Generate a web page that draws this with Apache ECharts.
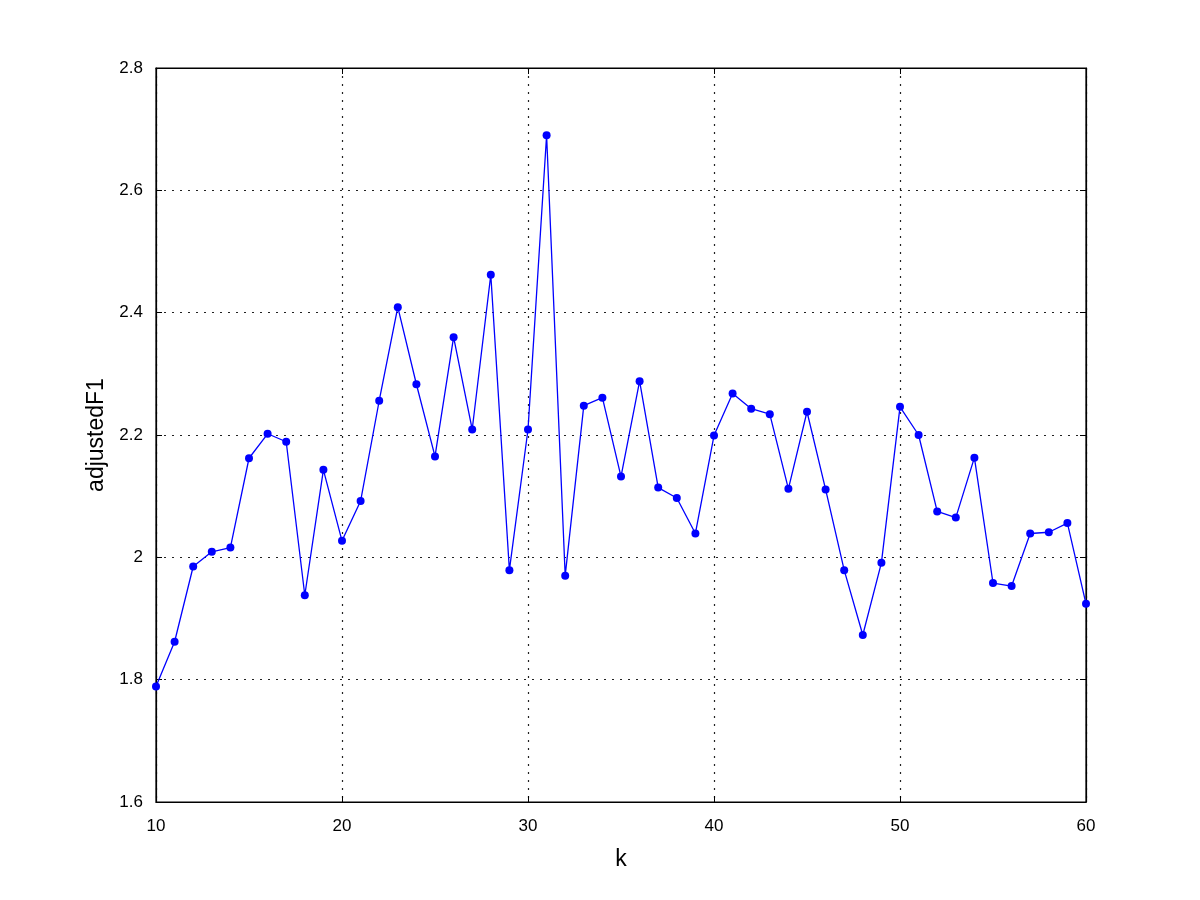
<!DOCTYPE html>
<html>
<head>
<meta charset="utf-8">
<script src="https://cdn.jsdelivr.net/npm/echarts@6/dist/echarts.min.js"></script>
<style>
  html, body { margin: 0; padding: 0; background: #fff; }
  #chart { width: 1200px; height: 900px; }
</style>
</head>
<body>
<div id="chart"></div>
<script>
// k values and adjustedF1
var kValues = [10, 11, 12, 13, 14, 15, 16, 17, 18, 19, 20, 21, 22, 23, 24, 25, 26, 27, 28, 29, 30,
  31, 32, 33, 34, 35, 36, 37, 38, 39, 40, 41, 42, 43, 44, 45, 46, 47, 48, 49, 50,
  51, 52, 53, 54, 55, 56, 57, 58, 59, 60];
var adjustedF1 = [1.789, 1.862, 1.985, 2.009, 2.016, 2.162, 2.202, 2.189, 1.938, 2.143, 2.027,
  2.092, 2.256, 2.409, 2.283, 2.165, 2.360, 2.209, 2.462, 1.979, 2.209,
  2.690, 1.970, 2.248, 2.261, 2.132, 2.288, 2.114, 2.097, 2.039, 2.199,
  2.268, 2.243, 2.234, 2.112, 2.238, 2.111, 1.979, 1.873, 1.991, 2.246,
  2.200, 2.075, 2.065, 2.163, 1.958, 1.953, 2.039, 2.041, 2.056, 1.924];
var xTicks = { min: 10, max: 60, interval: 10 };
var yTicks = { min: 1.6, max: 2.8, interval: 0.2 };

var points = kValues.map(function (k, i) { return [k, adjustedF1[i]]; });

var font = 'Liberation Sans, Arial, sans-serif';
var gridLine = { show: true, lineStyle: { color: '#222', type: [2, 6], width: 1.2 } };
var tick = { show: true, inside: true, length: 6, lineStyle: { color: '#000' } };
var line = { show: true, lineStyle: { color: '#000', width: 1.2 } };

var option = {
  animation: false,
  backgroundColor: '#fff',
  grid: { left: 156, right: 114, top: 68, bottom: 98, show: true, borderColor: '#000', borderWidth: 1.2 },
  xAxis: [
    {
      type: 'value', min: xTicks.min, max: xTicks.max, interval: xTicks.interval,
      name: 'k', nameLocation: 'middle', nameGap: 46,
      nameTextStyle: { fontFamily: font, fontSize: 23, color: '#000' },
      axisLine: line, axisTick: tick, splitLine: gridLine,
      axisLabel: { fontFamily: font, fontSize: 17, color: '#000', margin: 16 }
    },
    {
      type: 'value', position: 'top', min: xTicks.min, max: xTicks.max, interval: xTicks.interval,
      axisLine: line, axisTick: tick, splitLine: { show: false }, axisLabel: { show: false }
    }
  ],
  yAxis: [
    {
      type: 'value', min: yTicks.min, max: yTicks.max, interval: yTicks.interval,
      name: 'adjustedF1', nameLocation: 'middle', nameGap: 48, nameRotate: 90,
      nameTextStyle: { fontFamily: font, fontSize: 23, color: '#000' },
      axisLine: line, axisTick: tick, splitLine: gridLine,
      axisLabel: { fontFamily: font, fontSize: 17, color: '#000', margin: 13, padding: [6, 0, 0, 0] }
    },
    {
      type: 'value', position: 'right', min: yTicks.min, max: yTicks.max, interval: yTicks.interval,
      axisLine: line, axisTick: tick, splitLine: { show: false }, axisLabel: { show: false }
    }
  ],
  series: [
    {
      type: 'line',
      data: points,
      symbol: 'circle',
      symbolSize: 8,
      showAllSymbol: true,
      clip: false,
      lineStyle: { color: '#0000ff', width: 1.3 },
      itemStyle: { color: '#0000ff' }
    }
  ]
};

var myChart = echarts.init(document.getElementById('chart'));
myChart.setOption(option);
</script>
</body>
</html>
